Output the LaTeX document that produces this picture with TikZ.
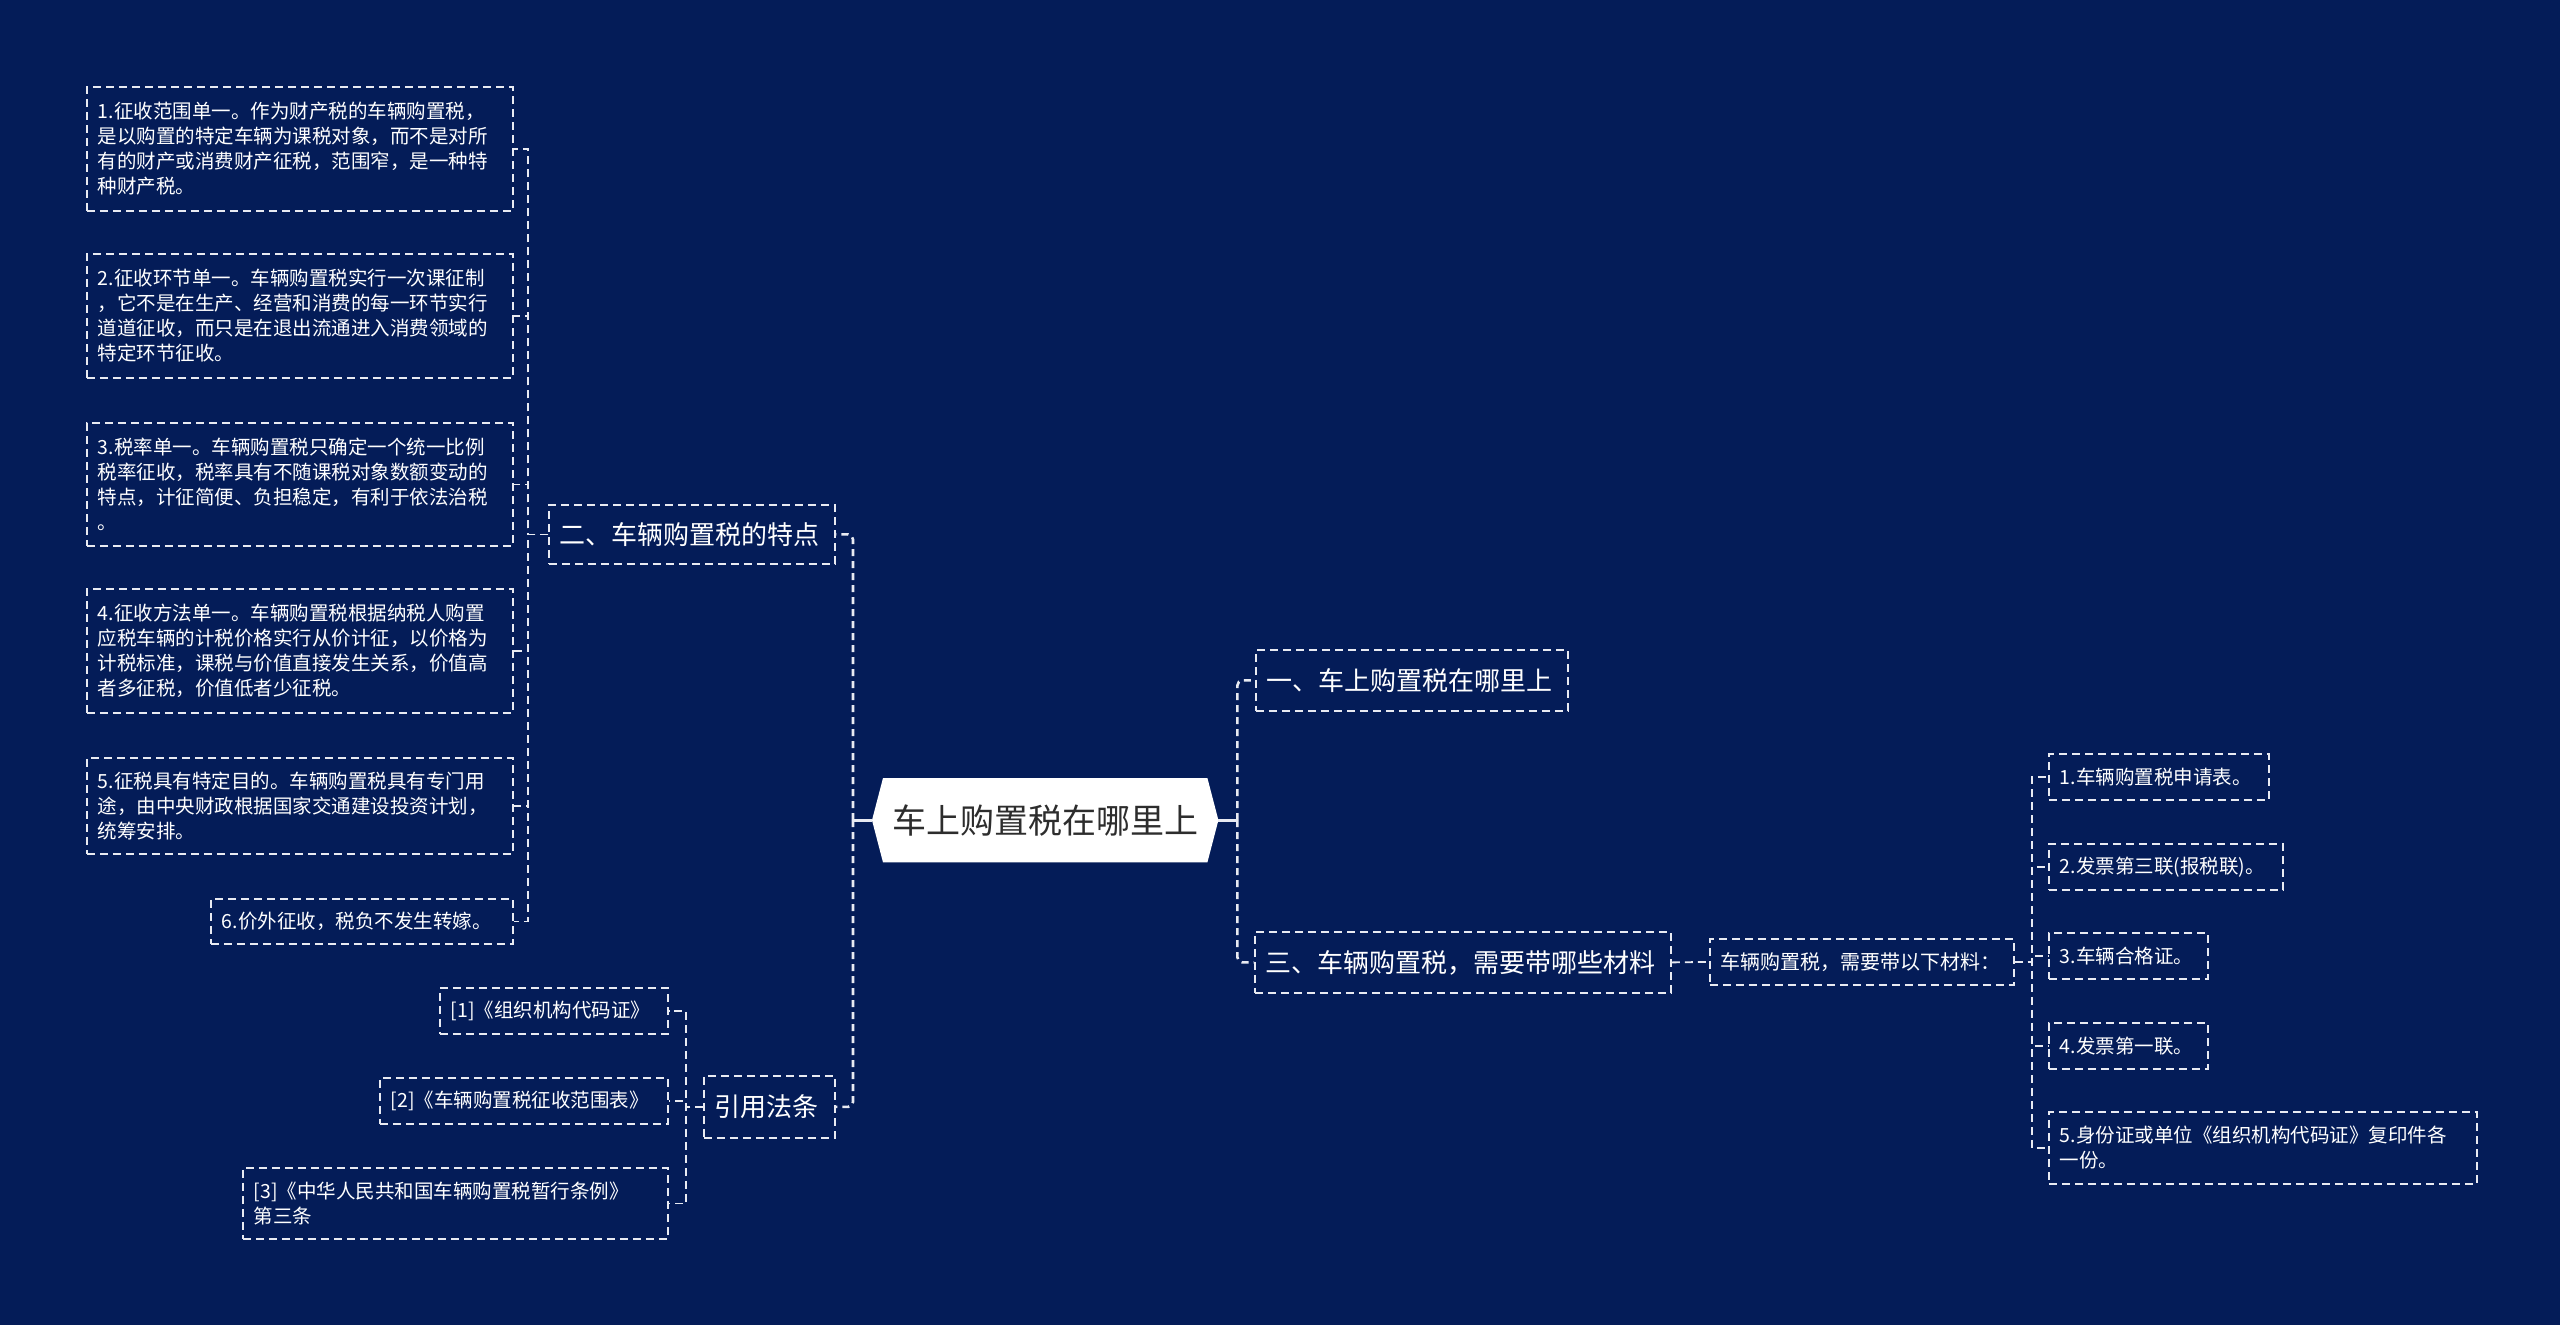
\documentclass[tikz,border=0pt]{standalone}
\usepackage{fontspec}
\setmainfont{Noto Sans CJK SC}
\usetikzlibrary{backgrounds}
\definecolor{bgC}{RGB}{4,28,88}
\definecolor{lnC}{RGB}{232,234,242}
\definecolor{rootT}{RGB}{45,45,45}
\tikzset{
  box/.style={draw=lnC, line width=1.8pt, dash pattern=on 8pt off 5pt, text=white,
    inner xsep=11pt, inner ysep=0pt, align=left, font=\fontsize{19.5}{25}\selectfont},
  midbox/.style={box, font=\fontsize{20}{25}\selectfont},
  branchbox/.style={box, font=\fontsize{26}{32}\selectfont},
  conn/.style={draw=lnC, line width=1.8pt, dash pattern=on 8pt off 5pt},
  rconn/.style={draw=lnC, line width=2.6pt, dash pattern=on 7pt off 5pt, rounded corners=5pt},
  rstub/.style={draw=lnC, line width=2.6pt},
}
\begin{document}
\begin{tikzpicture}[x=1pt,y=-1pt]
\useasboundingbox (0,0) rectangle (2560,1325);

% root
\node[text=rootT, font=\fontsize{34}{40}\selectfont, minimum width=346pt, minimum height=84pt, inner sep=0pt, anchor=north west] (root) at (872,778) {车上购置税在哪里上};

% branches
\node[branchbox, anchor=north west, text width=264pt, minimum height=59pt] (t2) at (548,504) {二、车辆购置税的特点};
\node[branchbox, anchor=north west, text width=109pt, minimum height=62pt] (t4) at (703,1075) {引用法条};
\node[branchbox, anchor=north west, text width=290pt, minimum height=61pt] (t1) at (1255,649) {一、车上购置税在哪里上};
\node[branchbox, anchor=north west, text width=394pt, minimum height=61pt] (t3) at (1254,931) {三、车辆购置税，需要带哪些材料};

% features
\node[box, anchor=north west, text width=404pt, minimum height=124pt] (b1) at (86,86) {1.征收范围单一。作为财产税的车辆购置税，\\是以购置的特定车辆为课税对象，而不是对所\\有的财产或消费财产征税，范围窄，是一种特\\种财产税。};
\node[box, anchor=north west, text width=404pt, minimum height=124pt] (b2) at (86,253) {2.征收环节单一。车辆购置税实行一次课征制\\，它不是在生产、经营和消费的每一环节实行\\道道征收，而只是在退出流通进入消费领域的\\特定环节征收。};
\node[box, anchor=north west, text width=404pt, minimum height=123pt] (b3) at (86,422) {3.税率单一。车辆购置税只确定一个统一比例\\税率征收，税率具有不随课税对象数额变动的\\特点，计征简便、负担稳定，有利于依法治税\\。};
\node[box, anchor=north west, text width=404pt, minimum height=124pt] (b4) at (86,588) {4.征收方法单一。车辆购置税根据纳税人购置\\应税车辆的计税价格实行从价计征，以价格为\\计税标准，课税与价值直接发生关系，价值高\\者多征税，价值低者少征税。};
\node[box, anchor=north west, text width=404pt, minimum height=96pt] (b5) at (86,757) {5.征税具有特定目的。车辆购置税具有专门用\\途，由中央财政根据国家交通建设投资计划，\\统筹安排。};
\node[box, anchor=north west, text width=280pt, minimum height=45pt] (b6) at (210,898) {6.价外征收，税负不发生转嫁。};

% references
\node[box, anchor=north west, text width=206pt, minimum height=46pt] (f1) at (439,987) {[1]《组织机构代码证》};
\node[box, anchor=north west, text width=266pt, minimum height=46pt] (f2) at (379,1077) {[2]《车辆购置税征收范围表》};
\node[box, anchor=north west, text width=403pt, minimum height=71pt] (f3) at (242,1167) {[3]《中华人民共和国车辆购置税暂行条例》\\第三条};

% materials
\node[midbox, anchor=north west, text width=282pt, minimum height=46pt] (m) at (1709,938) {车辆购置税，需要带以下材料：};
\node[box, anchor=north west, text width=198pt, minimum height=46pt] (r1) at (2048,753) {1.车辆购置税申请表。};
\node[box, anchor=north west, text width=212pt, minimum height=46pt] (r2) at (2048,843) {2.发票第三联(报税联)。};
\node[box, anchor=north west, text width=137pt, minimum height=46pt] (r3) at (2048,932) {3.车辆合格证。};
\node[box, anchor=north west, text width=137pt, minimum height=46pt] (r4) at (2048,1022) {4.发票第一联。};
\node[box, anchor=north west, text width=406pt, minimum height=72pt] (r5) at (2048,1111) {5.身份证或单位《组织机构代码证》复印件各\\一份。};

% background and root shape
\begin{scope}[on background layer]
\fill[bgC] (0,0) rectangle (2560,1325);
\fill[white] (root.west) -- ([xshift=11pt]root.north west) -- ([xshift=-11pt]root.north east)
  -- (root.east) -- ([xshift=-11pt]root.south east) -- ([xshift=11pt]root.south west) -- cycle;
\end{scope}

% root connectors
\draw[rstub] (root.west) -- ++(-19,0) coordinate (rl);
\draw[rconn] (rl) |- (t2.east);
\draw[rconn] (rl) |- (t4.east);
\draw[rstub] (root.east) -- ++(19,0) coordinate (rr);
\draw[rconn] (rr) |- (t1.west);
\draw[rconn] (rr) |- (t3.west);

% feature connectors
\foreach \b in {b1,b2,b3,b4,b5,b6}{
  \draw[conn] (t2.west) -- ++(-20,0) |- (\b.east);
}
% reference connectors
\foreach \b in {f1,f2,f3}{
  \draw[conn] (t4.west) -- ++(-17,0) |- (\b.east);
}
% materials connectors
\draw[conn] (t3.east) -- (m.west);
\foreach \b in {r1,r2,r3,r4,r5}{
  \draw[conn] (m.east) -- ++(17,0) |- (\b.west);
}
\end{tikzpicture}
\end{document}
